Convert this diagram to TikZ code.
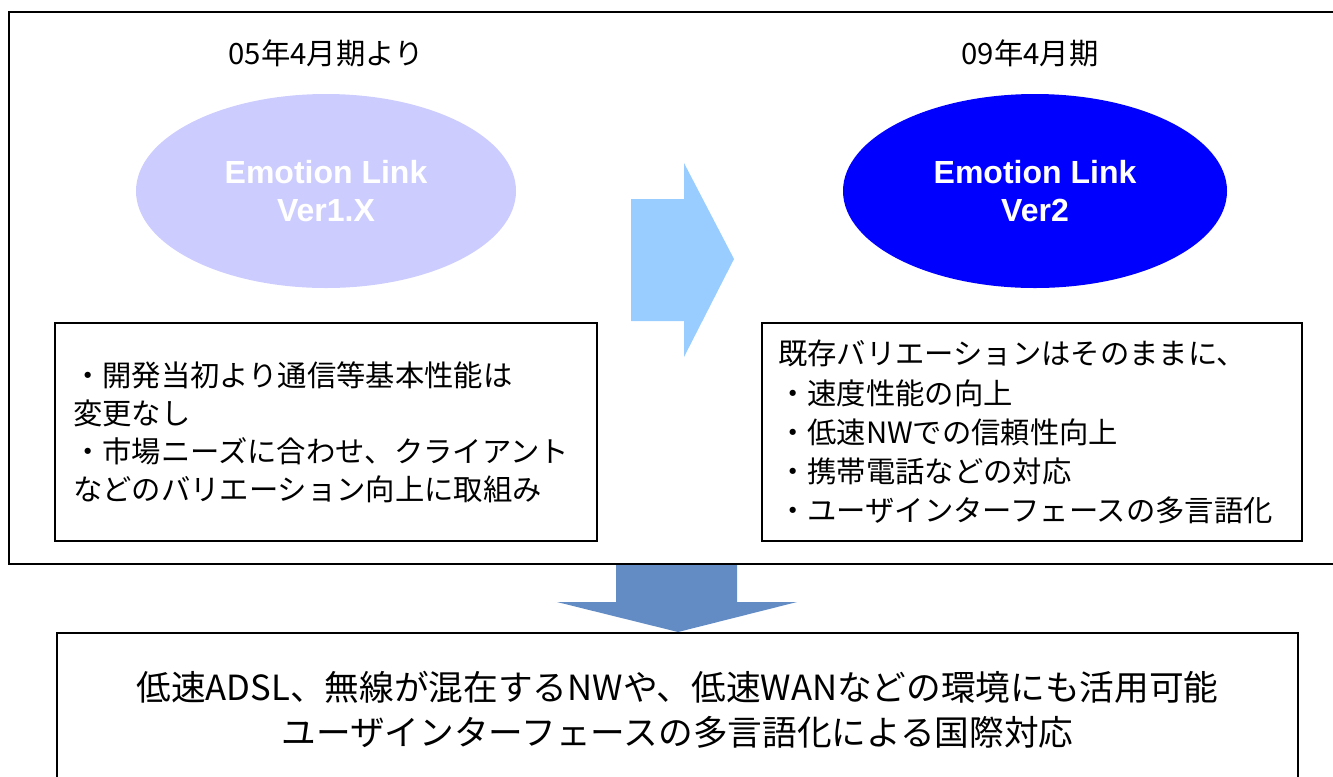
\documentclass[tikz,border=0pt]{standalone}
\usepackage{fontspec}
\setmainfont{Noto Sans CJK JP}
\newfontfamily\arialfont{Liberation Sans}
\usetikzlibrary{shapes.geometric}

\definecolor{oldfill}{RGB}{204,204,255}
\definecolor{newfill}{RGB}{0,0,255}
\definecolor{nextblue}{RGB}{153,204,255}
\definecolor{downblue}{RGB}{99,140,197}

\begin{document}
\begin{tikzpicture}[x=0.75pt,y=-0.75pt,
  frame/.style={draw,line width=1.2pt},
  textbox/.style={frame,rectangle,align=left,inner xsep=0pt,minimum height=163.5pt,
    font=\fontsize{22}{28.5}\selectfont},
  version/.style={ellipse,minimum height=145.5pt,inner sep=0pt,text=white,align=center,
    font=\arialfont\bfseries\fontsize{24}{28}\selectfont},
  period/.style={font=\fontsize{22}{26}\selectfont}]
  \clip (0,0) rectangle (1333,776);

  % block arrows first, the frames go over them
  \fill[nextblue] (631,199) -- (684,199) -- (684,163) -- (734,259) -- (684,357) -- (684,321) -- (631,321) -- cycle;
  \fill[downblue] (616,564) -- (737,564) -- (737,602) -- (797,602) -- (678,632) -- (557,602) -- (616,602) -- cycle;

  \draw[frame] (9,12) rectangle (1345,564);   %outer frame runs off the right edge

  % left column: old version
  \node[period] (oldperiod) at (326,53) {05年4月期より};
  \node[version,fill=oldfill,minimum width=285pt] (oldver) at (326,191) {Emotion Link\\Ver1.X};
  \node[textbox,text width=379.5pt,inner xsep=13.5pt] (oldnotes) at (326,432)
    {・開発当初より通信等基本性能は\\変更なし\\・市場ニーズに合わせ、クライアント\\などのバリエーション向上に取組み};

  % right column: new version
  \node[period] (newperiod) at (1030,53) {09年4月期};
  \node[version,fill=newfill,minimum width=288pt] (newver) at (1035,191) {Emotion Link\\Ver2};
  \node[textbox,text width=381pt,inner xsep=12pt,font=\fontsize{22}{29.3}\selectfont] (newnotes) at (1032,432)
    {既存バリエーションはそのままに、\\・速度性能の向上\\・低速NWでの信頼性向上\\・携帯電話などの対応\\・ユーザインターフェースの多言語化};

  % result box, its bottom is cut off
  \node[frame,rectangle,align=center,minimum width=930.75pt,minimum height=115.5pt,
    font=\fontsize{26}{34}\selectfont] (result) at (677.5,710)
    {低速ADSL、無線が混在するNWや、低速WANなどの環境にも活用可能\\ユーザインターフェースの多言語化による国際対応};
\end{tikzpicture}
\end{document}
